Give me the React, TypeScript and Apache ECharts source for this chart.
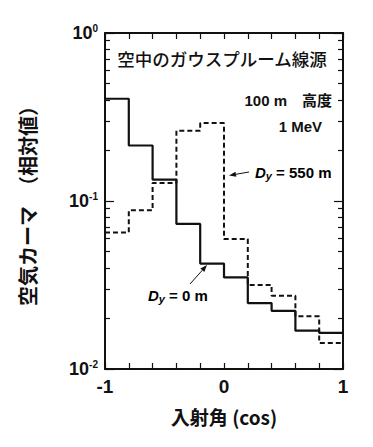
import React, { useEffect, useRef } from "react";
import * as echarts from "echarts";

// Bin edges of the angular histogram (cosine of incidence angle)
const binEdges = [-1, -0.8, -0.6, -0.4, -0.2, 0, 0.2, 0.4, 0.6, 0.8, 1];
// Relative air kerma per bin, D_y = 0 m (solid)
const kermaDy0 = [0.406, 0.214, 0.134, 0.073, 0.0424, 0.0351, 0.0247, 0.0222, 0.0169, 0.0164];
// Relative air kerma per bin, D_y = 550 m (dashed)
const kermaDy550 = [0.065, 0.088, 0.128, 0.262, 0.291, 0.0594, 0.0316, 0.0273, 0.0206, 0.0143];
// Axis ticks
const xLabelValues = [-1, 0, 1];
const yMinorTicks = [0.02, 0.03, 0.04, 0.05, 0.06, 0.07, 0.08, 0.09, 0.2, 0.3, 0.4, 0.5, 0.6, 0.7, 0.8, 0.9];

const FONT = "'Liberation Sans', Arial, 'Noto Sans CJK JP', sans-serif";
const CJK = "'Noto Sans CJK JP', 'Liberation Sans', sans-serif";

function stepData(vals: number[]) {
  return binEdges.map((x, i) => [x, vals[Math.min(i, vals.length - 1)]]);
}

function arrow(x1: number, y1: number, x2: number, y2: number) {
  const dx = x2 - x1;
  const dy = y2 - y1;
  const L = Math.sqrt(dx * dx + dy * dy);
  const ux = dx / L;
  const uy = dy / L;
  const hl = 7;
  const hw = 2.6;
  const bx = x2 - ux * hl;
  const by = y2 - uy * hl;
  return [
    {
      type: "line",
      shape: { x1, y1, x2: bx, y2: by },
      style: { stroke: "#111", lineWidth: 1 },
    },
    {
      type: "polygon",
      shape: {
        points: [
          [x2, y2],
          [bx - uy * hw, by + ux * hw],
          [bx + uy * hw, by - ux * hw],
        ],
      },
      style: { fill: "#111" },
    },
  ];
}

export default function App() {
  const ref = useRef<HTMLDivElement>(null);
  useEffect(() => {
    if (!ref.current) return;
    const chart = echarts.init(ref.current, undefined, { renderer: "svg" });
    const isInt = (v: number) => Math.abs(v - Math.round(v)) < 1e-9;
    const axisLine = { show: true, onZero: false, lineStyle: { color: "#111", width: 2 } };
    const noLine = { show: false, onZero: false };
    const dRich = {
      d: { fontFamily: FONT, fontSize: 15, fontWeight: "bold", fontStyle: "italic", color: "#111" },
      sub: { fontFamily: FONT, fontSize: 11, fontWeight: "bold", fontStyle: "italic", color: "#111", padding: [7, 0, 0, 0] },
      n: { fontFamily: FONT, fontSize: 15, fontWeight: "bold", color: "#111" },
    };
    const logAxisBase = { type: "log", logBase: 10, min: 0.01, max: 1, splitLine: { show: false } };
    chart.setOption({
      animation: false,
      backgroundColor: "#fff",
      grid: { left: 105, right: 30, top: 33, bottom: 78, containLabel: false },
      xAxis: [
        {
          type: "value",
          position: "bottom",
          min: -1,
          max: 1,
          interval: 0.2,
          axisLine,
          splitLine: { show: false },
          axisTick: { show: true, inside: true, length: 6, lineStyle: { color: "#111", width: 1.2 } },
          axisLabel: {
            margin: 8,
            fontFamily: FONT,
            fontSize: 19,
            fontWeight: "bold",
            color: "#111",
            formatter: (v: number) => (isInt(v) && xLabelValues.includes(Math.round(v)) ? String(Math.round(v)) : ""),
          },
          name: "入射角 (cos)",
          nameLocation: "middle",
          nameGap: 38,
          nameTextStyle: { fontFamily: CJK, fontSize: 19, fontWeight: "bold", color: "#111" },
        },
        {
          type: "value",
          position: "top",
          min: -1,
          max: 1,
          interval: 0.2,
          axisLine,
          splitLine: { show: false },
          axisTick: { show: true, inside: true, length: 6, lineStyle: { color: "#111", width: 1.2 } },
          axisLabel: { show: false },
        },
      ],
      yAxis: [
        {
          ...logAxisBase,
          position: "left",
          axisLine,
          minorTick: { show: false },
          axisTick: { show: true, inside: true, length: 9, lineStyle: { color: "#111", width: 1.2 } },
          axisLabel: {
            margin: 7,
            formatter: (v: number) => `{b|10}{s|${Math.round(Math.log10(v))}}`,
            rich: {
              b: { fontFamily: FONT, fontSize: 18, fontWeight: "bold", color: "#111" },
              s: { fontFamily: FONT, fontSize: 10, fontWeight: "bold", color: "#111", padding: [0, 0, 9, 0] },
            },
          },
          name: "空気カーマ　（相対値）",
          nameLocation: "middle",
          nameGap: 68,
          nameTextStyle: { fontFamily: CJK, fontSize: 20, fontWeight: "bold", color: "#111" },
        },
        {
          ...logAxisBase,
          position: "left",
          axisLine: noLine,
          axisTick: {
            show: true,
            inside: true,
            length: 5,
            customValues: yMinorTicks,
            lineStyle: { color: "#111", width: 1.2 },
          },
          axisLabel: { show: false },
        },
        {
          ...logAxisBase,
          position: "right",
          axisLine,
          axisTick: { show: true, inside: true, length: 9, lineStyle: { color: "#111", width: 1.2 } },
          axisLabel: { show: false },
        },
        {
          ...logAxisBase,
          position: "right",
          axisLine: noLine,
          axisTick: {
            show: true,
            inside: true,
            length: 5,
            customValues: yMinorTicks,
            lineStyle: { color: "#111", width: 1.2 },
          },
          axisLabel: { show: false },
        },
      ],
      series: [
        {
          name: "Dy = 550 m",
          type: "line",
          step: "end",
          xAxisIndex: 0,
          yAxisIndex: 0,
          symbol: "none",
          data: stepData(kermaDy550),
          lineStyle: { color: "#111", width: 2, type: [5, 3] },
          z: 3,
        },
        {
          name: "Dy = 0 m",
          type: "line",
          step: "end",
          xAxisIndex: 0,
          yAxisIndex: 0,
          symbol: "none",
          data: stepData(kermaDy0),
          lineStyle: { color: "#111", width: 2.2 },
          z: 4,
        },
      ],
      graphic: [
        {
          type: "text",
          x: 222,
          y: 58,
          style: {
            text: "空中のガウスプルーム線源",
            fontFamily: CJK,
            fontSize: 17.5,
            fontWeight: 500,
            fill: "#111",
            align: "center",
            verticalAlign: "middle",
          },
        },
        {
          type: "text",
          x: 332,
          y: 100,
          style: {
            text: "100 m　高度",
            fontFamily: FONT,
            fontSize: 15,
            fontWeight: "bold",
            fill: "#111",
            align: "right",
            verticalAlign: "middle",
          },
        },
        {
          type: "text",
          x: 322,
          y: 126,
          style: {
            text: "1 MeV",
            fontFamily: FONT,
            fontSize: 15,
            fontWeight: "bold",
            fill: "#111",
            align: "right",
            verticalAlign: "middle",
          },
        },
        {
          type: "text",
          x: 255,
          y: 172,
          style: {
            text: "{d|D}{sub|y}{n| = 550 m}",
            rich: dRich,
            align: "left",
            verticalAlign: "middle",
          },
        },
        {
          type: "text",
          x: 148,
          y: 295,
          style: {
            text: "{d|D}{sub|y}{n| = 0 m}",
            rich: dRich,
            align: "left",
            verticalAlign: "middle",
          },
        },
        ...arrow(249, 172, 229, 175.5),
        ...arrow(190, 284, 207, 265),
      ],
    });
    return () => chart.dispose();
  }, []);
  return <div ref={ref} style={{ width: 373, height: 447, margin: -8 }} />;
}
